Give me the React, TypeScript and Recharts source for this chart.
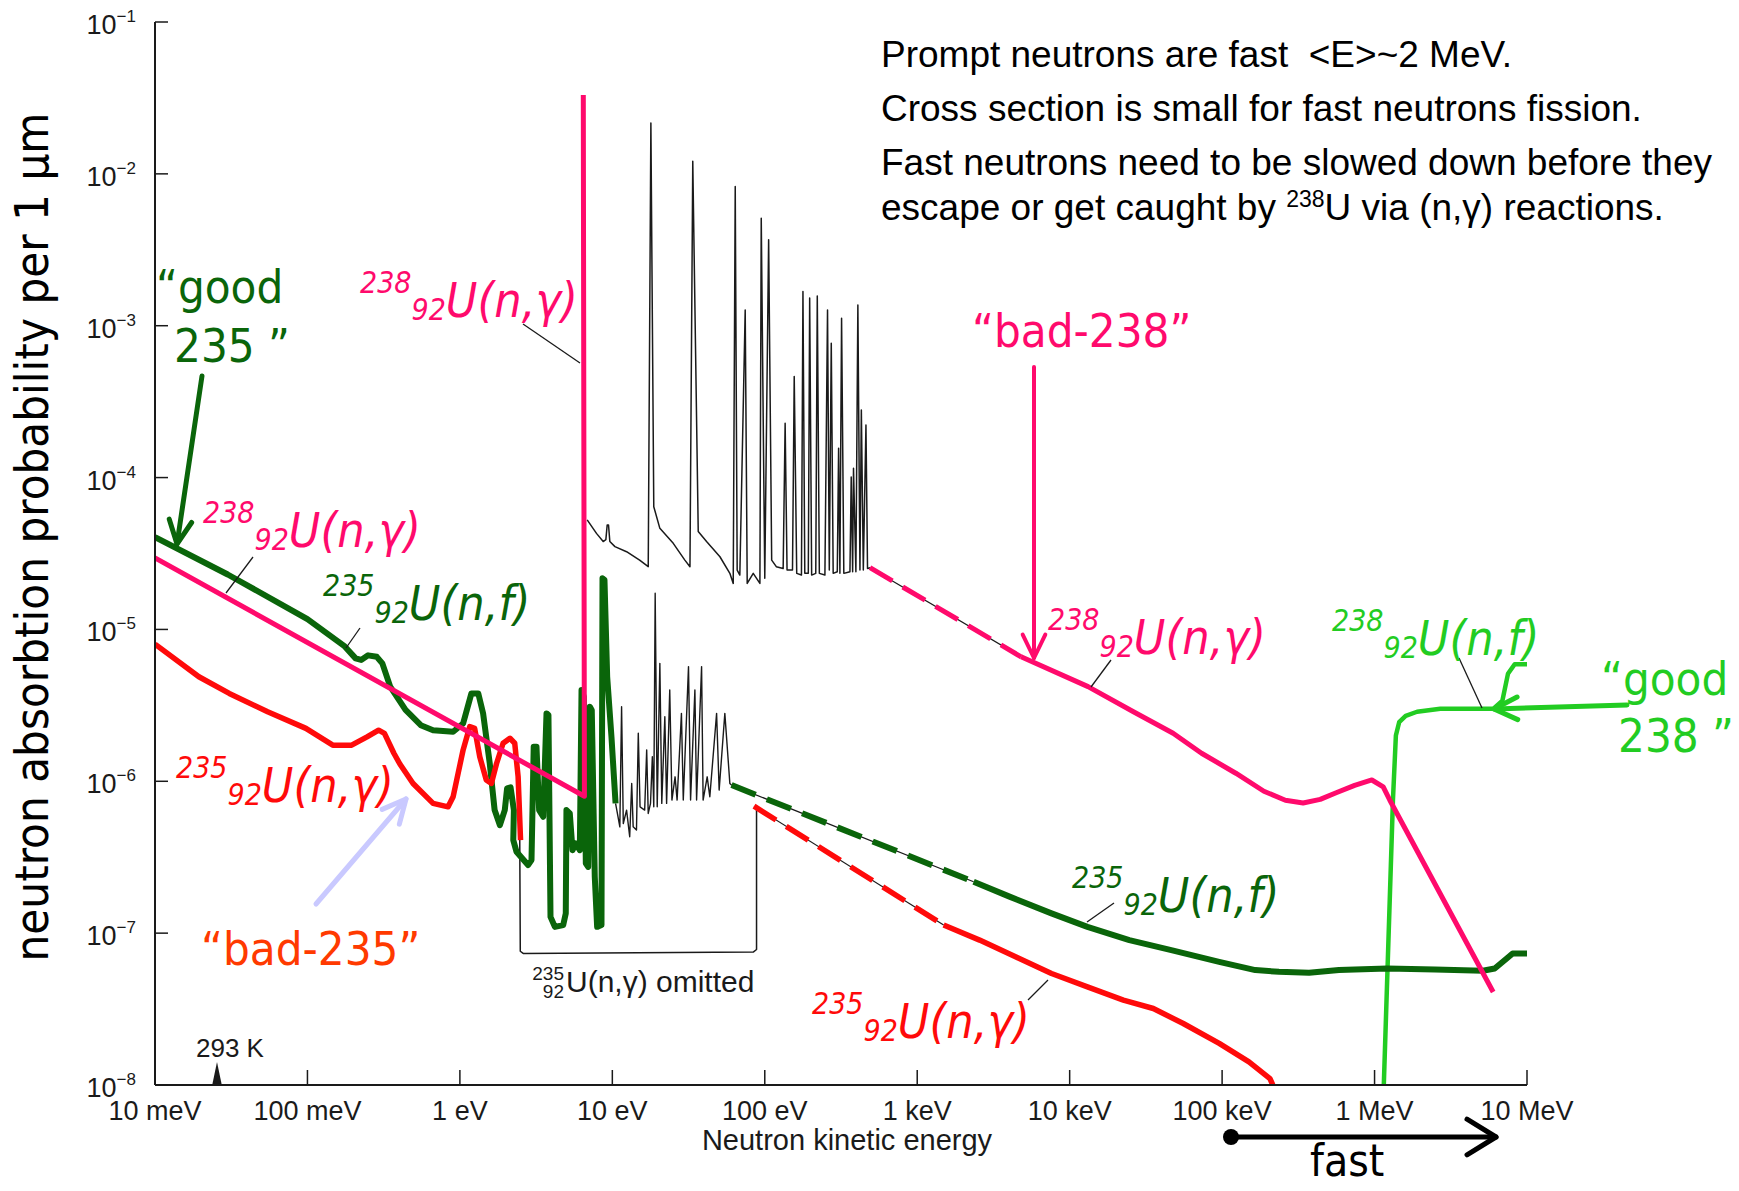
import React from 'react';
import { ComposedChart, Line, XAxis, YAxis } from 'recharts';

const W = 1739;
const H = 1191;

const INK = '#1a1a1a';
const PINK = '#ff0a6c';
const DARK_GREEN = '#0a650a';
const RED = '#ff0a0a';
const LIGHT_GREEN = '#22cc22';
const BAD_235 = '#ff3a00';
const LAVENDER = '#c9c9ff';

const TICK_FONT = '"Liberation Sans", Arial, sans-serif';
const LABEL_FONT = '"DejaVu Sans Condensed", Roboto, "DejaVu Sans", sans-serif';

// x: neutron kinetic energy in eV, y: absorption probability per 1 um
const ENERGY_TICKS = [0.01, 0.1, 1, 10, 100, 1e3, 1e4, 1e5, 1e6, 1e7];
const ENERGY_LABELS = ['10 meV', '100 meV', '1 eV', '10 eV', '100 eV', '1 keV', '10 keV', '100 keV', '1 MeV', '10 MeV'];
const PROB_TICKS = [1e-8, 1e-7, 1e-6, 1e-5, 1e-4, 1e-3, 1e-2, 1e-1];

// 238U(n,gamma): 1/v part and the jump at the first resonance
const U238_NG_LOW = [[0.01, 2.96e-5], [6.56, 7.97e-7], [6.45, 3.3e-2]];

// 238U(n,gamma) resonance region (original black trace)
const U238_NG_RES = [
  [6.84, 5.26e-5], [7.87, 4.29e-5], [8.71, 3.79e-5], [9.07, 3.9e-5], [9.25, 4.87e-5], [9.44, 4.87e-5],
  [9.63, 3.79e-5], [10.4, 3.51e-5], [12.4, 3.25e-5], [15.1, 2.86e-5], [17.2, 2.59e-5], [17.9, 2.16e-2],
  [18.7, 6.43e-5], [20.5, 4.63e-5], [25.1, 3.69e-5], [29.9, 2.86e-5], [32.3, 2.59e-5], [33.7, 1.21e-2],
  [36.6, 4.41e-5], [41.5, 3.79e-5], [50.8, 3.01e-5], [59.0, 2.34e-5], [62.1, 2.01e-5], [64.0, 8.25e-3],
  [65.9, 2.46e-5], [68.6, 2.28e-5], [74.4, 1.27e-3], [76.7, 2.01e-5], [84.0, 2.34e-5], [92.9, 2.01e-5],
  [94.8, 5.11e-3], [100, 2.17e-5], [106, 3.68e-3], [111, 2.86e-5], [119, 2.59e-5], [132, 2.52e-5],
  [136, 2.28e-4], [140, 2.46e-5], [152, 2.46e-5], [156, 4.63e-4], [162, 2.34e-5], [174, 2.28e-5],
  [178, 1.68e-3], [183, 2.34e-5], [193, 2.34e-5], [197, 1.52e-3], [203, 2.28e-5], [216, 2.34e-5],
  [221, 1.57e-3], [228, 2.34e-5], [248, 2.28e-5], [258, 1.27e-3], [265, 2.46e-5], [273, 7.67e-4],
  [281, 2.34e-5], [299, 2.4e-5], [305, 1.56e-4], [311, 2.34e-5], [319, 1.12e-3], [330, 2.34e-5],
  [362, 2.4e-5], [369, 1.01e-4], [377, 2.4e-5], [382, 1.15e-4], [396, 2.4e-5], [408, 1.37e-3],
  [421, 2.46e-5], [430, 2.79e-4], [443, 2.46e-5], [461, 2.22e-4], [472, 2.52e-5], [490, 2.55e-5],
];

const U238_NG_GAP = [[490, 2.55e-5], [4800, 6.6e-6]];

const U238_NG_HIGH = [
  [4800, 6.6e-6], [13200, 4.2e-6], [26200, 2.87e-6], [47700, 2.07e-6], [73300, 1.53e-6], [1.23e5, 1.13e-6],
  [1.88e5, 8.6e-7], [2.6e5, 7.5e-7], [3.4e5, 7.2e-7], [4.4e5, 7.6e-7], [5.6e5, 8.4e-7], [7.4e5, 9.4e-7],
  [9.6e5, 1.02e-6], [1.14e6, 9.2e-7], [1.26e6, 7.5e-7], [6.0e6, 4.1e-8],
];

// 235U(n,f)
const U235_NF_LOW = [
  [0.01, 4.05e-5], [0.03, 2.3e-5], [0.1, 1.17e-5], [0.174, 7.8e-6], [0.207, 6.45e-6], [0.225, 6.3e-6],
  [0.25, 6.75e-6], [0.285, 6.6e-6], [0.31, 5.98e-6], [0.349, 4.2e-6], [0.44, 2.95e-6], [0.554, 2.34e-6],
  [0.667, 2.17e-6], [0.903, 2.12e-6], [1.05, 2.4e-6], [1.19, 3.79e-6], [1.32, 3.79e-6], [1.42, 2.8e-6],
  [1.57, 1.31e-6], [1.69, 6.46e-7], [1.83, 5.14e-7], [1.97, 6.46e-7], [2.04, 8.98e-7], [2.15, 9.12e-7],
  [2.26, 6.46e-7], [2.24, 4.1e-7], [2.35, 3.44e-7], [2.8, 2.81e-7], [2.95, 3.03e-7], [3.05, 1.69e-6],
  [3.18, 1.69e-6], [3.31, 6.46e-7], [3.52, 5.84e-7], [3.7, 2.8e-6], [3.81, 2.73e-6], [3.93, 1.28e-7],
  [4.2, 1.1e-7], [4.76, 1.13e-7], [4.95, 1.35e-7], [5.0, 6.46e-7], [5.26, 6.14e-7], [5.48, 3.52e-7],
  [5.76, 3.9e-7], [6.12, 3.52e-7], [6.28, 3.99e-6], [6.5, 3.61e-6], [6.7, 2.88e-7], [6.94, 2.73e-7],
  [7.12, 3.1e-6], [7.33, 2.94e-6], [7.67, 2.35e-7], [7.95, 1.1e-7], [8.49, 1.13e-7], [8.62, 2.17e-5],
  [8.88, 2.12e-5], [9.25, 4.89e-6], [9.87, 1.96e-6], [10.5, 7.15e-7],
];

// 235U(n,f) resonance region (original black trace)
const U235_NF_RES = [
  [10.5, 7.15e-7], [10.9, 5.84e-7], [11.2, 5.01e-7], [11.5, 3.1e-6], [11.8, 5.27e-7], [12.4, 6.46e-7],
  [13.0, 4.31e-7], [13.4, 9.68e-7], [13.7, 5.01e-7], [14.4, 4.77e-7], [14.8, 2.07e-6], [15.2, 6.79e-7],
  [16.3, 6.46e-7], [16.8, 1.61e-6], [17.2, 6.14e-7], [17.8, 7.15e-7], [18.3, 1.45e-6], [18.7, 6.79e-7],
  [19.1, 1.73e-5], [19.7, 6.79e-7], [20.5, 5.98e-6], [21.1, 7.15e-7], [22.1, 2.66e-6], [22.7, 7.15e-7],
  [23.8, 3.99e-6], [24.6, 7.52e-7], [25.8, 1.07e-6], [26.6, 7.52e-7], [28.4, 2.8e-6], [29.2, 7.52e-7],
  [31.6, 5.69e-6], [32.6, 7.52e-7], [34.8, 3.99e-6], [35.7, 7.52e-7], [38.5, 5.69e-6], [39.4, 7.52e-7],
  [41.9, 1.07e-6], [43.6, 7.91e-7], [48.3, 2.8e-6], [50.2, 8.75e-7], [54.7, 2.8e-6], [59.0, 9.68e-7],
  [60.5, 9.44e-7],
];

const U235_NF_GAP = [[60.5, 9.44e-7], [2344, 2.18e-7]];

const U235_NF_HIGH = [
  [2344, 2.18e-7], [4032, 1.74e-7], [7596, 1.35e-7], [13080, 1.1e-7], [24630, 9.0e-8], [46400, 7.73e-8],
  [95700, 6.47e-8], [1.65e5, 5.71e-8], [2.36e5, 5.56e-8], [3.72e5, 5.48e-8], [5.84e5, 5.71e-8],
  [1.21e6, 5.85e-8], [2.49e6, 5.76e-8], [5.13e6, 5.65e-8], [6.14e6, 5.85e-8], [7.36e6, 6.81e-8],
  [8.05e6, 7.35e-8], [1e7, 7.35e-8],
];

// 235U(n,gamma)
const U235_NG_LOW = [
  [0.01, 8.0e-6], [0.0194, 4.88e-6], [0.0307, 3.79e-6], [0.0548, 2.87e-6], [0.0977, 2.23e-6],
  [0.1466, 1.73e-6], [0.195, 1.73e-6], [0.246, 1.96e-6], [0.293, 2.17e-6], [0.32, 2.07e-6],
  [0.369, 1.53e-6], [0.404, 1.3e-6], [0.493, 9.68e-7], [0.667, 7.15e-7], [0.837, 6.79e-7],
  [0.903, 7.91e-7], [1.05, 1.61e-6], [1.16, 2.29e-6], [1.25, 2.23e-6], [1.35, 1.45e-6], [1.49, 1.02e-6],
  [1.61, 9.68e-7], [1.74, 1.31e-6], [1.92, 1.78e-6], [2.13, 1.92e-6], [2.29, 1.78e-6], [2.41, 1.07e-6],
  [2.5, 4.1e-7],
];

const U235_NG_GAP = [[85, 6.86e-7], [1490, 1.13e-7]];

const U235_NG_HIGH = [
  [1490, 1.13e-7], [2566, 9.0e-8], [4415, 6.98e-8], [7600, 5.42e-8], [13080, 4.43e-8], [22500, 3.62e-8],
  [35370, 3.19e-8], [55600, 2.54e-8], [95700, 1.88e-8], [1.5e5, 1.42e-8], [2.06e5, 1.1e-8], [2.15e5, 1.0e-8],
];

// bracket around the omitted 235U(n,gamma) resonances
const OMITTED = [[2.47, 4.1e-7], [2.49, 7.6e-8], [2.6, 7.35e-8], [84, 7.5e-8], [88.3, 7.8e-8], [88.3, 6.8e-7]];

// 238U(n,f) threshold
const U238_NF = [
  [1.15e6, 1.0e-8], [1.32e6, 7.5e-7], [1.38e6, 2.0e-6], [1.45e6, 2.45e-6], [1.6e6, 2.7e-6], [1.9e6, 2.87e-6],
  [2.7e6, 3.0e-6], [6.0e6, 3.0e-6], [6.9e6, 3.4e-6], [7.5e6, 5.1e-6], [8.3e6, 5.9e-6], [1e7, 5.9e-6],
];

const toPts = (rows: number[][]) => rows.map(([e, p]) => ({ e, p }));

const energyLabel = (v: number) => {
  const i = ENERGY_TICKS.findIndex(t => Math.abs(Math.log10(t) - Math.log10(v)) < 0.01);
  return i >= 0 ? ENERGY_LABELS[i] : '';
};

const BottomTick = (props: any) => {
  const { x, y, payload } = props;
  return (
    <g>
      <line x1={x} y1={y} x2={x} y2={y - 15} stroke={INK} strokeWidth={1.5} />
      <text x={x} y={y + 35} textAnchor="middle" fontFamily={TICK_FONT} fontSize={27} fill={INK}>
        {energyLabel(payload.value)}
      </text>
    </g>
  );
};

const TopTick = (props: any) => {
  const { x, y } = props;
  return <line x1={x} y1={y} x2={x} y2={y + 12} stroke={INK} strokeWidth={1.5} />;
};

const LeftTick = (props: any) => {
  const { x, y, payload } = props;
  const exp = Math.round(Math.log10(payload.value));
  return (
    <g>
      <line x1={x} y1={y} x2={x + 13} y2={y} stroke={INK} strokeWidth={1.5} />
      <text x={x - 19} y={y + 12} textAnchor="end" fontFamily={TICK_FONT} fontSize={27} fill={INK}>
        10<tspan dy={-12} fontSize={17}>{'\u2212' + Math.abs(exp)}</tspan>
      </text>
    </g>
  );
};

const RightTick = (props: any) => {
  const { x, y } = props;
  return <line x1={x} y1={y} x2={x - 12} y2={y} stroke={INK} strokeWidth={1.5} />;
};

const Arrow = ({ x1, y1, x2, y2, color, width, head = 26, spread = 0.45 }: any) => {
  const a = Math.atan2(y2 - y1, x2 - x1);
  const hx1 = x2 - head * Math.cos(a - spread);
  const hy1 = y2 - head * Math.sin(a - spread);
  const hx2 = x2 - head * Math.cos(a + spread);
  const hy2 = y2 - head * Math.sin(a + spread);
  return (
    <g stroke={color} strokeWidth={width} strokeLinecap="round" strokeLinejoin="round" fill="none">
      <line x1={x1} y1={y1} x2={x2} y2={y2} />
      <polyline points={`${hx1},${hy1} ${x2},${y2} ${hx2},${hy2}`} />
    </g>
  );
};

const Iso = ({ x, y, mass, rest, color }: any) => (
  <text x={x} y={y} fill={color} fontFamily={LABEL_FONT} fontStyle="italic">
    <tspan fontSize={30} dy={-24}>{mass}</tspan>
    <tspan fontSize={30} dy={27}>92</tspan>
    <tspan fontSize={48} dy={-3}>{rest}</tspan>
  </text>
);

const Leader = ({ x1, y1, x2, y2 }: any) => (
  <line x1={x1} y1={y1} x2={x2} y2={y2} stroke={INK} strokeWidth={1.3} />
);

const series = (key: string, rows: number[][], color: string, width: number, dash?: string) => (
  <Line
    key={key}
    xAxisId="bottom"
    yAxisId="left"
    data={toPts(rows)}
    dataKey="p"
    type="linear"
    stroke={color}
    strokeWidth={width}
    strokeDasharray={dash}
    strokeLinejoin="round"
    strokeLinecap="butt"
    dot={false}
    activeDot={false}
    isAnimationActive={false}
  />
);

export default function App() {
  return (
    <div style={{ position: 'fixed', left: 0, top: 0, width: W, height: H, background: '#fff' }}>
      <div style={{ position: 'absolute', left: 0, top: 0 }}>
        <ComposedChart width={W} height={H} margin={{ top: 22, right: 212, bottom: 0, left: 0 }}>
          <XAxis
            xAxisId="bottom"
            type="number"
            dataKey="e"
            scale="log"
            domain={[0.01, 1e7]}
            ticks={ENERGY_TICKS}
            interval={0}
            allowDataOverflow
            height={106}
            tickSize={0}
            tickMargin={0}
            tickLine={false}
            axisLine={{ stroke: INK, strokeWidth: 2 }}
            tick={BottomTick}
          />
          <XAxis
            xAxisId="top"
            orientation="top"
            type="number"
            dataKey="e"
            scale="log"
            domain={[0.01, 1e7]}
            ticks={ENERGY_TICKS}
            interval={0}
            allowDataOverflow
            height={0}
            tickSize={0}
            tickMargin={0}
            tickLine={false}
            axisLine={{ stroke: INK, strokeWidth: 2 }}
            tick={TopTick}
          />
          <YAxis
            yAxisId="left"
            type="number"
            scale="log"
            domain={[1e-8, 1e-1]}
            ticks={PROB_TICKS}
            interval={0}
            allowDataOverflow
            width={155}
            tickSize={0}
            tickMargin={0}
            tickLine={false}
            axisLine={{ stroke: INK, strokeWidth: 2 }}
            tick={LeftTick}
          />
          <YAxis
            yAxisId="right"
            orientation="right"
            type="number"
            scale="log"
            domain={[1e-8, 1e-1]}
            ticks={PROB_TICKS}
            interval={0}
            allowDataOverflow
            width={0}
            tickSize={0}
            tickMargin={0}
            tickLine={false}
            axisLine={{ stroke: INK, strokeWidth: 2 }}
            tick={RightTick}
          />
          {series('omitted', OMITTED, INK, 1.5)}
          {series('u238ngGapBlack', U238_NG_GAP, INK, 1.2)}
          {series('u235nfGapBlack', U235_NF_GAP, INK, 1.2)}
          {series('u235ngGapBlack', U235_NG_GAP, INK, 1.2)}
          {series('u238ngRes', U238_NG_RES, INK, 1.5)}
          {series('u235nfRes', U235_NF_RES, INK, 1.4)}
          {series('u238nf', U238_NF, LIGHT_GREEN, 4.5)}
          {series('u235nfLow', U235_NF_LOW, DARK_GREEN, 6)}
          {series('u235nfGap', U235_NF_GAP, DARK_GREEN, 6, '26 12')}
          {series('u235nfHigh', U235_NF_HIGH, DARK_GREEN, 6)}
          {series('u235ngLow', U235_NG_LOW, RED, 5.5)}
          {series('u235ngGap', U235_NG_GAP, RED, 5.5, '26 12')}
          {series('u235ngHigh', U235_NG_HIGH, RED, 5.5)}
          {series('u238ngLow', U238_NG_LOW, PINK, 5)}
          {series('u238ngGap', U238_NG_GAP, PINK, 5, '26 12')}
          {series('u238ngHigh', U238_NG_HIGH, PINK, 5)}
        </ComposedChart>
      </div>

      <svg width={W} height={H} style={{ position: 'absolute', left: 0, top: 0, pointerEvents: 'none' }}>
        {/* note box over the upper right of the frame */}
        <rect x={870} y={28} width={W - 870} height={208} fill="#fff" />
        <g fontFamily={TICK_FONT} fontSize={37} fill="#000">
          <text x={881} y={67}>{'Prompt neutrons are fast\u00a0 <E>~2 MeV.'}</text>
          <text x={881} y={121}>Cross section is small for fast neutrons fission.</text>
          <text x={881} y={175}>Fast neutrons need to be slowed down before they</text>
          <text x={881} y={220}>
            escape or get caught by <tspan fontSize={23} dy={-13}>238</tspan>
            <tspan dy={13}>U via (n,γ) reactions.</tspan>
          </text>
        </g>

        {/* axis titles */}
        <text
          transform="translate(48,537) rotate(-90)"
          textAnchor="middle"
          fontFamily={LABEL_FONT}
          fontSize={47}
          fill="#000"
        >
          neutron absorbtion probability per 1 μm
        </text>
        <text x={847} y={1150} textAnchor="middle" fontFamily={TICK_FONT} fontSize={29} fill={INK}>
          Neutron kinetic energy
        </text>

        {/* 293 K marker */}
        <text x={196} y={1057} fontFamily={TICK_FONT} fontSize={26} fill={INK}>293 K</text>
        <polygon points="217,1062 212,1086 222,1086" fill={INK} />

        {/* omitted note */}
        <g fontFamily={TICK_FONT} fill={INK}>
          <text x={564} y={980} fontSize={19} textAnchor="end">235</text>
          <text x={564} y={998} fontSize={19} textAnchor="end">92</text>
          <text x={566} y={992} fontSize={30}>U(n,γ) omitted</text>
        </g>

        {/* leader lines */}
        <Leader x1={523} y1={324} x2={580} y2={363} />
        <Leader x1={253} y1={557} x2={226} y2={593} />
        <Leader x1={360} y1={628} x2={346} y2={648} />
        <Leader x1={1111} y1={660} x2={1091} y2={687} />
        <Leader x1={1459} y1={658} x2={1482} y2={708} />
        <Leader x1={1114} y1={903} x2={1087} y2={922} />
        <Leader x1={1048} y1={980} x2={1028} y2={1000} />

        {/* isotope labels */}
        <Iso x={360} y={317} mass="238" rest="U(n,γ)" color={PINK} />
        <Iso x={203} y={547} mass="238" rest="U(n,γ)" color={PINK} />
        <Iso x={323} y={620} mass="235" rest="U(n,f)" color={DARK_GREEN} />
        <Iso x={176} y={802} mass="235" rest="U(n,γ)" color={RED} />
        <Iso x={1048} y={654} mass="238" rest="U(n,γ)" color={PINK} />
        <Iso x={1332} y={655} mass="238" rest="U(n,f)" color={LIGHT_GREEN} />
        <Iso x={1072} y={912} mass="235" rest="U(n,f)" color={DARK_GREEN} />
        <Iso x={812} y={1038} mass="235" rest="U(n,γ)" color={RED} />

        {/* good / bad annotations */}
        <g fontFamily={LABEL_FONT} fontSize={47}>
          <text x={156} y={303} fill={DARK_GREEN}>“good</text>
          <text x={174} y={362} fill={DARK_GREEN}>235 ”</text>
          <text x={201} y={965} fill={BAD_235}>“bad-235”</text>
          <text x={972} y={347} fill={PINK}>“bad-238”</text>
          <text x={1601} y={695} fill={LIGHT_GREEN}>“good</text>
          <text x={1618} y={752} fill={LIGHT_GREEN}>238 ”</text>
        </g>
        <Arrow x1={202} y1={376} x2={177} y2={544} color={DARK_GREEN} width={5} />
        <Arrow x1={316} y1={904} x2={406} y2={799} color={LAVENDER} width={5} />
        <Arrow x1={1034} y1={367} x2={1034} y2={658} color={PINK} width={4} />
        <Arrow x1={1627} y1={705} x2={1494} y2={709} color={LIGHT_GREEN} width={5} />

        {/* fast neutrons */}
        <circle cx={1231} cy={1137} r={8} fill="#000" />
        <Arrow x1={1231} y1={1137} x2={1496} y2={1137} color="#000" width={5} head={34} spread={0.55} />
        <text x={1310} y={1176} fontFamily={LABEL_FONT} fontSize={44} fill="#000">fast</text>
      </svg>
    </div>
  );
}
